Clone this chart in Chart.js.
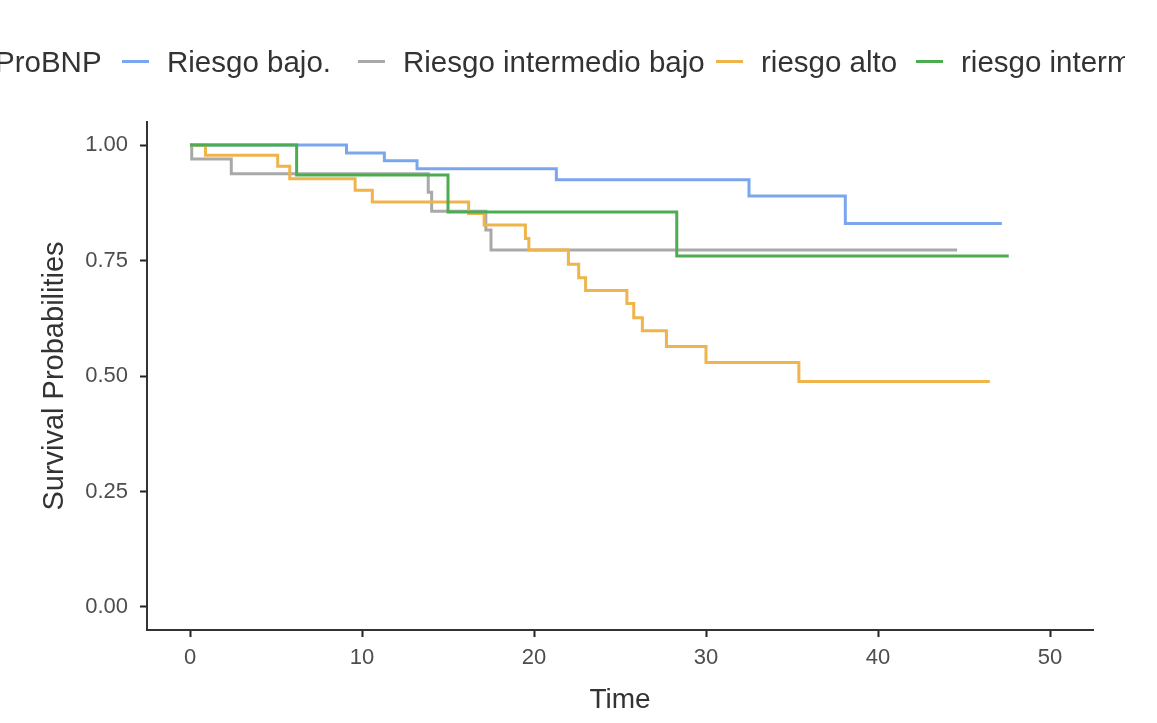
<!DOCTYPE html>
<html>
<head>
<meta charset="utf-8">
<script src="https://cdn.jsdelivr.net/npm/chart.js@4.4.1/dist/chart.umd.min.js"></script>
<style>
    body { margin: 0; background: #fff; }
    #wrap { position: relative; width: 1157px; height: 723px; overflow: hidden; }
    #legend {
        position: absolute; top: 42px; left: 0; width: 1125px; height: 40px;
        overflow: hidden; white-space: nowrap;
        font-family: "Liberation Sans", Arial, sans-serif; font-size: 29.5px; color: #333;
    }
    #legend span { position: absolute; line-height: 40px; top: 0; }
    #legend .key { height: 3px; width: 27px; top: 18px; }
</style>
</head>
<body>
<div id="wrap">
    <canvas id="kmChart"></canvas>
    <div id="legend"></div>
</div>
<script>
    // Kaplan-Meier steps (time, survival)
    const legendTitle = 'ProBNP';
    const groupNames = ['Riesgo bajo.', 'Riesgo intermedio bajo', 'riesgo alto', 'riesgo intermedio alto'];
    const groupColors = ['#7aa6ee', '#a9a9a9', '#efb44a', '#4cad50'];

    const bajoTimes = [0, 9.1, 11.3, 13.2, 21.3, 32.5, 38.1, 47.2];
    const bajoSurv  = [1, 0.983, 0.966, 0.949, 0.925, 0.89, 0.83, 0.83];

    const intBajoTimes = [0, 0.1, 2.4, 13.85, 14.05, 17.2, 17.5, 44.6];
    const intBajoSurv  = [1, 0.97, 0.938, 0.898, 0.857, 0.816, 0.773, 0.773];

    const altoTimes = [0, 0.9, 5.1, 5.8, 9.6, 10.6, 16.2, 17.1, 19.5, 19.7, 22.0, 22.6, 23.0, 25.4, 25.8, 26.3, 27.7, 30.0, 35.4, 46.5];
    const altoSurv  = [1, 0.978, 0.954, 0.927, 0.902, 0.877, 0.852, 0.827, 0.798, 0.773, 0.742, 0.713, 0.685, 0.657, 0.626, 0.598, 0.564, 0.529, 0.488, 0.488];

    const intAltoTimes = [0, 6.2, 15.0, 28.3, 47.6];
    const intAltoSurv  = [1, 0.935, 0.855, 0.76, 0.76];

    const xTicks = [0, 10, 20, 30, 40, 50];
    const yTicks = [0, 0.25, 0.5, 0.75, 1];

    const seriesTimes = [bajoTimes, intBajoTimes, altoTimes, intAltoTimes];
    const seriesSurv = [bajoSurv, intBajoSurv, altoSurv, intAltoSurv];

    const fontFamily = '"Liberation Sans", Arial, sans-serif';

    // html legend; the original runs off both sides, so it is clipped the same way
    const keyLeft = [122, 358, 716, 916];
    const legendEl = document.getElementById('legend');
    let legendHtml = `<span id="legTitle">${legendTitle}</span>`;
    groupNames.forEach((name, i) => {
        legendHtml += `<span class="key" style="left:${keyLeft[i]}px;background:${groupColors[i]}"></span>`;
        legendHtml += `<span style="left:${keyLeft[i] + 45}px">${name}</span>`;
    });
    legendEl.innerHTML = legendHtml;
    // title is right-aligned so it ends just before the first key
    const titleEl = document.getElementById('legTitle');
    titleEl.style.left = (102 - titleEl.offsetWidth) + 'px';

    const datasets = groupNames.map((name, i) => ({
        label: name,
        data: seriesTimes[i].map((t, j) => ({ x: t, y: seriesSurv[i][j] })),
        borderColor: groupColors[i],
        borderWidth: 3,
        pointRadius: 0,
        stepped: true,
        fill: false,
        order: groupNames.length - i
    }));

    new Chart(document.getElementById('kmChart'), {
        type: 'line',
        data: { datasets: datasets },
        options: {
            responsive: true,
            maintainAspectRatio: false,
            animation: false,
            layout: { padding: { top: 122, right: 64, left: 0, bottom: 0 } },
            plugins: {
                legend: { display: false },
                tooltip: { enabled: false }
            },
            scales: {
                x: {
                    type: 'linear',
                    min: -2.5,
                    max: 52.5,
                    afterBuildTicks: s => { s.ticks = xTicks.map(v => ({ value: v })); },
                    afterFit: s => { s.height = 93; },
                    grid: { drawOnChartArea: false, drawTicks: true, tickLength: 7, tickColor: '#222', tickWidth: 2 },
                    border: { display: true, color: '#333', width: 2 },
                    ticks: {
                        padding: 8,
                        color: '#4d4d4d',
                        font: { family: fontFamily, size: 22 },
                        callback: v => String(v)
                    },
                    title: {
                        display: true,
                        text: 'Time',
                        color: '#333',
                        font: { family: fontFamily, size: 28 },
                        padding: { top: 0, bottom: 6 }
                    }
                },
                y: {
                    min: -0.05,
                    max: 1.05,
                    afterBuildTicks: s => { s.ticks = yTicks.map(v => ({ value: v })); },
                    afterFit: s => { s.width = 147; },
                    grid: { drawOnChartArea: false, drawTicks: true, tickLength: 7, tickColor: '#222', tickWidth: 2 },
                    border: { display: true, color: '#333', width: 2 },
                    ticks: {
                        padding: 12,
                        color: '#4d4d4d',
                        font: { family: fontFamily, size: 22 },
                        callback: v => Number(v).toFixed(2)
                    },
                    title: {
                        display: true,
                        text: 'Survival Probabilities',
                        color: '#333',
                        font: { family: fontFamily, size: 29 },
                        padding: { top: 38, bottom: 0 }
                    }
                }
            }
        }
    });
</script>
</body>
</html>
